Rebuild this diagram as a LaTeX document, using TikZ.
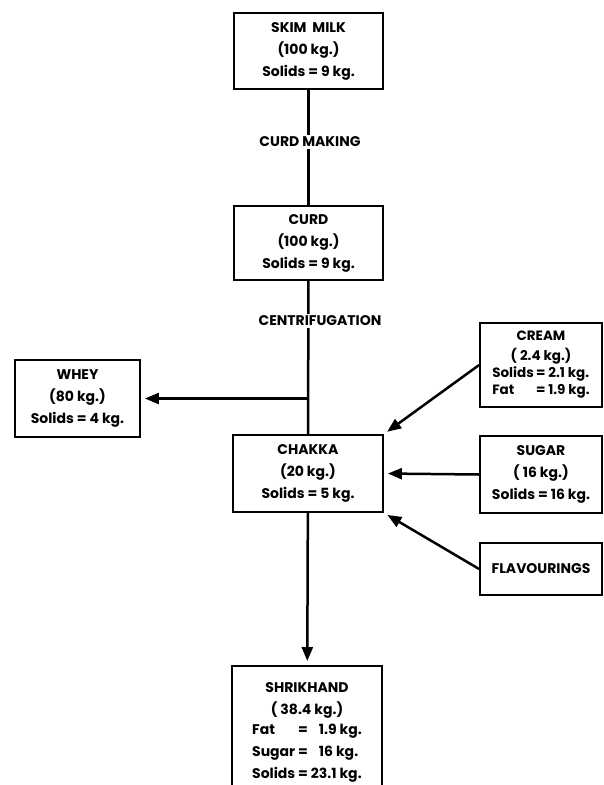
\documentclass[tikz,border=0pt]{standalone}
\usepackage{fontspec}
\setmainfont{Poppins}
\usetikzlibrary{arrows.meta}
\begin{document}
\begin{tikzpicture}[x=1pt,y=-1pt,
  txt/.style={font=\bfseries\fontsize{14}{22}\selectfont},
  box/.style={txt,draw,line width=1.8pt,inner sep=0pt,align=center},
  small/.style={font=\bfseries\fontsize{13.5}{17}\selectfont},
  lbl/.style={txt,fill=white,inner sep=2pt},
  flow/.style={line width=2.5pt},
  arr/.style={flow,-{Triangle[length=14pt,width=11pt]},shorten >=4pt}
]
\clip (0,0) rectangle (603,785);
\useasboundingbox (0,0) rectangle (603,785);
\fill[white] (0,0) rectangle (603,785);

\node[box,minimum width=149pt,minimum height=76pt] (skim) at (308.5,51)
  {SKIM\ \ MILK\\(100 kg.)\\Solids = 9 kg.};
\node[box,minimum width=149pt,minimum height=74pt] (curd) at (308.5,243)
  {CURD\\(100 kg.)\\Solids = 9 kg.};
\node[box,minimum width=150pt,minimum height=77pt] (chakka) at (308,473.5)
  {CHAKKA\\(20 kg.)\\Solids = 5 kg.};
\node[box,minimum width=125pt,minimum height=77pt] (whey) at (77.5,398.5)
  {WHEY\\(80 kg.)\\Solids = 4 kg.};
\node[box,small,minimum width=122pt,minimum height=84pt] (cream) at (541,365)
  {CREAM\\[3pt]( 2.4 kg.)\\
   \begin{tabular}{@{}l@{\,}l@{}}Solids&= 2.1 kg.\\Fat&= 1.9 kg.\end{tabular}};
\node[box,minimum width=122pt,minimum height=77pt] (sugar) at (541,474.5)
  {SUGAR\\( 16 kg.)\\Solids = 16 kg.};
\node[box,minimum width=122pt,minimum height=52pt] (flav) at (541,569)
  {FLAVOURINGS};
\node[box,minimum width=150pt,minimum height=140pt,anchor=north] (shrik) at (307,665)
  {\\[-16pt]SHRIKHAND\\( 38.4 kg.)\\
   \begin{tabular}{@{}l@{\ }l@{}}Fat&= \phantom{2}1.9 kg.\\Sugar&= \phantom{2}16 kg.\\Solids&= 23.1 kg.\end{tabular}};

\coordinate (br) at (chakka.north |- whey.east);

\draw[flow] (skim) -- (curd);
\node[lbl] (cm) at (310,142) {CURD MAKING};
\draw[flow] (curd) -- (chakka);
\node[lbl] (cf) at (320,321) {CENTRIFUGATION};
\draw[arr] (br) -- (whey.east);
\draw[arr] (chakka) -- (shrik);
\draw[arr] (cream.west) -- (chakka.north east);
\draw[arr] (sugar.west) -- (chakka.east);
\draw[arr] (flav.west) -- (chakka.south east);
\end{tikzpicture}
\end{document}
